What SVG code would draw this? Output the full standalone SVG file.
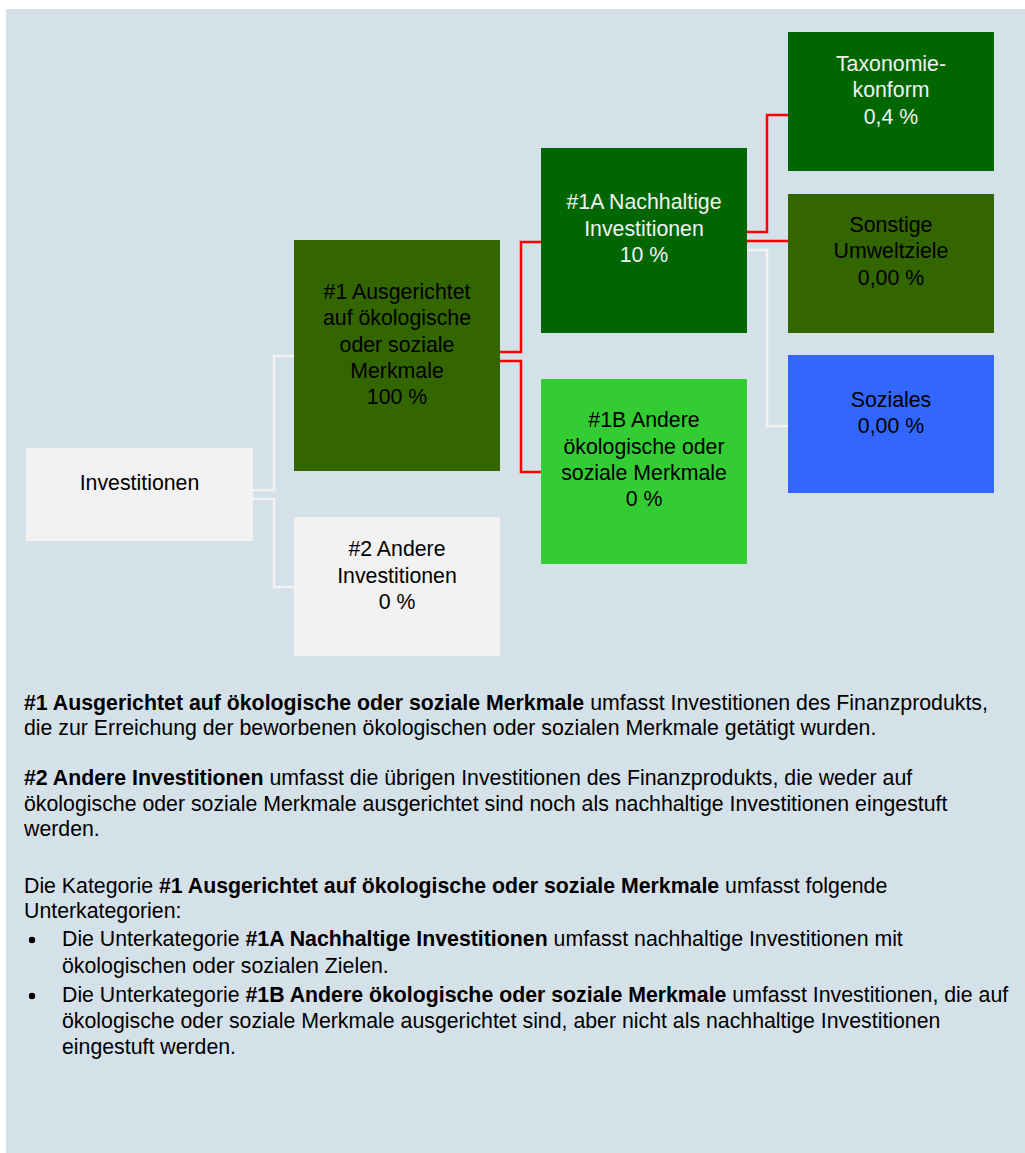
<svg xmlns="http://www.w3.org/2000/svg" width="1025" height="1153" viewBox="0 0 1025 1153">
<style>
text{font-family:"Liberation Sans",Arial,sans-serif;font-size:21.3px;fill:#000}
.c{text-anchor:middle}
.w{fill:#F2F2F2}
.b{font-weight:bold}
.red{fill:none;stroke:#FF0000;stroke-width:2.5}
.wh{fill:none;stroke:#F2F2F2;stroke-width:2.5}
</style>
<rect x="6" y="9" width="1019" height="1144" fill="#D5E1E9"/>
<g id="connectors">
<path class="wh" d="M253 490H274V356H294"/>
<path class="wh" d="M253 499H274V587H294"/>
<path class="red" d="M500 352H521V242H541"/>
<path class="red" d="M500 361H521V472H541"/>
<path class="red" d="M747 232H767V115H788"/>
<path class="red" d="M747 241H788"/>
<path class="wh" d="M747 250H767V426H788"/>
</g>
<g id="investitionen">
<rect x="26" y="448" width="227" height="93" fill="#F2F2F2"/>
<text class="c" x="139.5" y="490">Investitionen</text>
</g>
<g id="n1">
<rect x="294" y="240" width="206" height="231" fill="#336600"/>
<text class="c" x="397" y="299">#1 Ausgerichtet</text>
<text class="c" x="397" y="325">auf ökologische</text>
<text class="c" x="397" y="352">oder soziale</text>
<text class="c" x="397" y="378">Merkmale</text>
<text class="c" x="397" y="404">100 %</text>
</g>
<g id="n2">
<rect x="294" y="517" width="206" height="139" fill="#F2F2F2"/>
<text class="c" x="397" y="556">#2 Andere</text>
<text class="c" x="397" y="583">Investitionen</text>
<text class="c" x="397" y="609">0 %</text>
</g>
<g id="n1a">
<rect x="541" y="148" width="206" height="185" fill="#006600"/>
<text class="c w" x="644" y="209">#1A Nachhaltige</text>
<text class="c w" x="644" y="236">Investitionen</text>
<text class="c w" x="644" y="262">10 %</text>
</g>
<g id="n1b">
<rect x="541" y="379" width="206" height="185" fill="#33CC33"/>
<text class="c" x="644" y="427">#1B Andere</text>
<text class="c" x="644" y="454">ökologische oder</text>
<text class="c" x="644" y="480">soziale Merkmale</text>
<text class="c" x="644" y="506">0 %</text>
</g>
<g id="taxonomie">
<rect x="788" y="32" width="206" height="139" fill="#006600"/>
<text class="c w" x="891" y="71">Taxonomie-</text>
<text class="c w" x="891" y="97">konform</text>
<text class="c w" x="891" y="124">0,4 %</text>
</g>
<g id="sonstige">
<rect x="788" y="194" width="206" height="139" fill="#336600"/>
<text class="c" x="891" y="232">Sonstige</text>
<text class="c" x="891" y="258">Umweltziele</text>
<text class="c" x="891" y="285">0,00 %</text>
</g>
<g id="soziales">
<rect x="788" y="355" width="206" height="138" fill="#3366FF"/>
<text class="c" x="891" y="407">Soziales</text>
<text class="c" x="891" y="433">0,00 %</text>
</g>
<g id="legend">
<text x="24" y="710"><tspan class="b">#1 Ausgerichtet auf ökologische oder soziale Merkmale</tspan> umfasst Investitionen des Finanzprodukts,</text>
<text x="24" y="735">die zur Erreichung der beworbenen ökologischen oder sozialen Merkmale getätigt wurden.</text>
<text x="24" y="785"><tspan class="b">#2 Andere Investitionen</tspan> umfasst die übrigen Investitionen des Finanzprodukts, die weder auf</text>
<text x="24" y="811">ökologische oder soziale Merkmale ausgerichtet sind noch als nachhaltige Investitionen eingestuft</text>
<text x="24" y="836">werden.</text>
<text x="24" y="893">Die Kategorie <tspan class="b">#1 Ausgerichtet auf ökologische oder soziale Merkmale</tspan> umfasst folgende</text>
<text x="24" y="918">Unterkategorien:</text>
<circle cx="32" cy="940" r="3.2" fill="#000"/>
<text x="62" y="946">Die Unterkategorie <tspan class="b">#1A Nachhaltige Investitionen</tspan> umfasst nachhaltige Investitionen mit</text>
<text x="62" y="973">ökologischen oder sozialen Zielen.</text>
<circle cx="32" cy="996" r="3.2" fill="#000"/>
<text x="62" y="1002">Die Unterkategorie <tspan class="b">#1B Andere ökologische oder soziale Merkmale</tspan> umfasst Investitionen, die auf</text>
<text x="62" y="1028">ökologische oder soziale Merkmale ausgerichtet sind, aber nicht als nachhaltige Investitionen</text>
<text x="62" y="1054">eingestuft werden.</text>
</g>
</svg>
